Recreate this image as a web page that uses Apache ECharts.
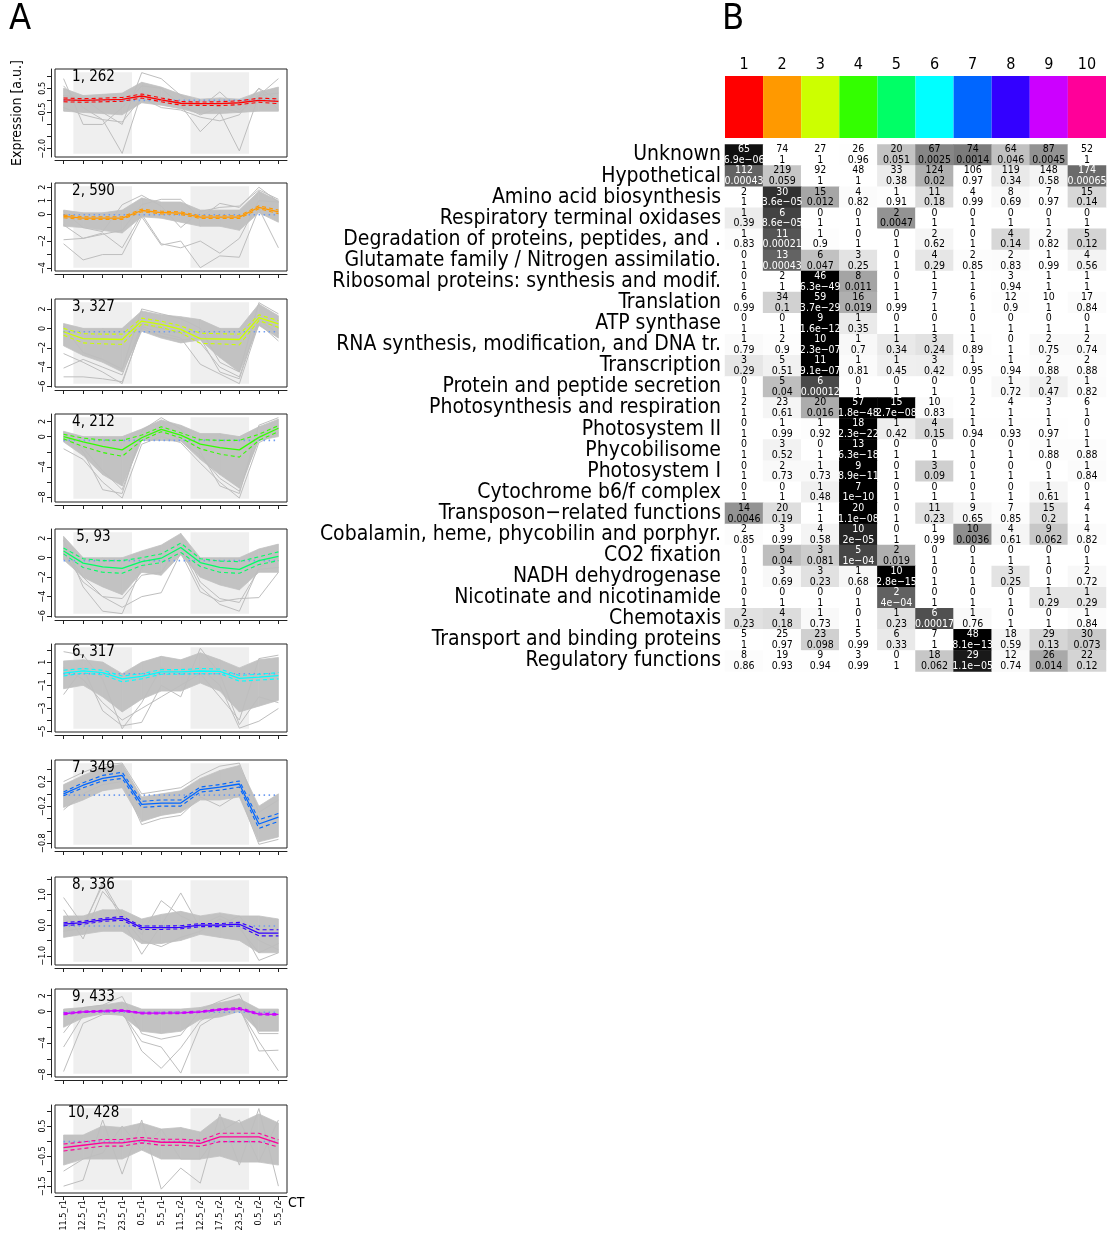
<!DOCTYPE html>
<html>
<head>
<meta charset="utf-8">
<script src="https://cdn.jsdelivr.net/npm/echarts@6/dist/echarts.min.js"></script>
<style>
html, body { margin: 0; padding: 0; background: #fff; }
#main { width: 1107px; height: 1235px; }
</style>
</head>
<body>
<div id="main"></div>
<script>
// ---- panel A: cluster profiles ----
var timeLabels = ['11.5_r1', '12.5_r1', '17.5_r1', '23.5_r1', '0.5_r1', '5.5_r1',
                  '11.5_r2', '12.5_r2', '17.5_r2', '23.5_r2', '0.5_r2', '5.5_r2'];
var clusterNames = ['1, 262', '2, 590', '3, 327', '4, 212', '5, 93', '6, 317', '7, 349', '8, 336', '9, 433', '10, 428'];
var clusterColors = ['#FF0000', '#FF9900', '#CCFF00', '#33FF00', '#00FF66', '#00FFFF', '#0066FF', '#3300FF', '#CC00FF', '#FF0099'];
var darkPhases = [[0.5, 3.5], [6.5, 9.5]];

// data range of each panel (the shaded boxes span it)
var yLimits = [[-2.215, 1.165], [-3.98, 2.07], [-5.71, 2.69], [-8.19, 2.55], [-5.76, 2.62],
               [-4.75, 2.28], [-0.827, 0.497], [-1.194, 1.464], [-7.88, 2.43], [-1.62, 1.09]];
var yTicks = [
    [-2, -1.5, -1, -0.5, 0, 0.5, 1],
    [-4, -3, -2, -1, 0, 1, 2],
    [-6, -4, -2, 0, 2],
    [-8, -6, -4, -2, 0, 2],
    [-6, -4, -2, 0, 2],
    [-5, -4, -3, -2, -1, 0, 1, 2],
    [-0.8, -0.6, -0.4, -0.2, 0, 0.2, 0.4],
    [-1, -0.5, 0, 0.5, 1, 1.5],
    [-8, -6, -4, -2, 0, 2],
    [-1.5, -1, -0.5, 0, 0.5, 1]
];
var yLabelValues = [
    [-2, -0.5, 0.5], [-4, -2, 0, 1, 2], [-6, -4, -2, 0, 2], [-8, -4, 0, 2], [-6, -4, -2, 0, 2],
    [-5, -3, -1, 1], [-0.8, -0.2, 0.2], [-1, 0, 1], [-8, -4, 0, 2], [-1.5, -0.5, 0.5]
];
var yLabelDecimals = [1, 0, 0, 0, 0, 0, 1, 1, 0, 1];

var meanProfiles = [
    [0.02, 0.0, 0.02, 0.04, 0.18, 0.02, -0.12, -0.14, -0.14, -0.1, 0.0, -0.04],
    [-0.17, -0.29, -0.29, -0.29, 0.27, 0.12, 0.07, -0.22, -0.22, -0.22, 0.51, 0.17],
    [-0.35, -1.05, -1.1, -1.15, 0.75, 0.4, -0.1, -1.05, -1.1, -1.15, 1.1, 0.45],
    [0.0, -0.7, -1.3, -1.75, -0.15, 0.95, 0.2, -1.0, -1.45, -1.75, -0.1, 1.1],
    [0.7, -0.55, -0.95, -1.1, -0.4, -0.05, 1.05, -0.5, -1.0, -1.2, -0.3, 0.15],
    [0.05, 0.25, 0.1, -0.45, -0.23, 0.15, 0.15, 0.23, 0.2, -0.4, -0.3, -0.17],
    [0.0, 0.14, 0.25, 0.3, -0.17, -0.15, -0.15, 0.07, 0.11, 0.16, -0.49, -0.38],
    [0.03, 0.08, 0.17, 0.22, -0.08, -0.08, -0.07, 0.0, 0.0, 0.03, -0.26, -0.26],
    [-0.3, -0.04, 0.04, 0.12, -0.2, -0.2, -0.17, -0.04, 0.25, 0.37, -0.33, -0.37],
    [-0.22, -0.14, -0.06, -0.06, 0.03, -0.04, -0.04, -0.08, 0.14, 0.14, 0.14, -0.08]
];
var upperProfiles = [
    [0.1, 0.07, 0.09, 0.12, 0.26, 0.1, -0.05, -0.07, -0.06, -0.02, 0.09, 0.06],
    [-0.07, -0.19, -0.19, -0.19, 0.37, 0.22, 0.17, -0.12, -0.12, -0.12, 0.62, 0.3],
    [0.0, -0.55, -0.6, -0.6, 1.05, 0.75, 0.25, -0.5, -0.55, -0.6, 1.4, 0.8],
    [0.3, -0.2, -0.45, -0.5, 0.2, 1.3, 0.5, -0.4, -0.5, -0.5, 0.3, 1.45],
    [1.0, -0.1, -0.3, -0.3, 0.0, 0.4, 1.5, -0.1, -0.35, -0.4, 0.1, 0.6],
    [0.3, 0.45, 0.3, -0.2, 0.0, 0.35, 0.35, 0.45, 0.4, -0.15, -0.05, 0.1],
    [0.03, 0.18, 0.3, 0.35, -0.12, -0.1, -0.1, 0.11, 0.15, 0.21, -0.42, -0.32],
    [0.08, 0.13, 0.22, 0.28, -0.03, -0.03, -0.02, 0.05, 0.05, 0.09, -0.15, -0.15],
    [-0.18, 0.06, 0.14, 0.22, -0.1, -0.1, -0.07, 0.06, 0.35, 0.5, -0.22, -0.27],
    [-0.1, -0.03, 0.05, 0.05, 0.12, 0.06, 0.06, 0.02, 0.26, 0.26, 0.26, 0.04]
];
var lowerProfiles = [
    [-0.06, -0.08, -0.06, -0.04, 0.1, -0.06, -0.2, -0.21, -0.22, -0.18, -0.08, -0.14],
    [-0.27, -0.39, -0.39, -0.39, 0.17, 0.02, -0.03, -0.32, -0.32, -0.32, 0.4, 0.04],
    [-0.7, -1.5, -1.6, -1.65, 0.45, 0.1, -0.45, -1.55, -1.6, -1.7, 0.8, 0.1],
    [-0.3, -1.3, -2.1, -2.6, -0.5, 0.65, -0.15, -1.6, -2.3, -2.7, -0.5, 0.65],
    [0.4, -1.0, -1.5, -1.6, -0.8, -0.5, 0.55, -0.9, -1.5, -1.6, -0.7, -0.3],
    [-0.2, 0.05, -0.1, -0.7, -0.45, -0.05, -0.05, 0.0, 0.0, -0.65, -0.55, -0.45],
    [-0.03, 0.1, 0.21, 0.25, -0.22, -0.2, -0.2, 0.03, 0.06, 0.11, -0.56, -0.45],
    [-0.02, 0.03, 0.12, 0.16, -0.14, -0.14, -0.12, -0.05, -0.05, -0.03, -0.35, -0.35],
    [-0.42, -0.14, -0.06, 0.02, -0.3, -0.3, -0.27, -0.14, 0.15, 0.25, -0.45, -0.47],
    [-0.33, -0.25, -0.17, -0.17, -0.06, -0.14, -0.14, -0.18, -0.02, -0.02, -0.02, -0.2]
];
var baselineLevels = [0.0, -0.05, -0.35, -0.5, -0.3, 0.0, -0.02, -0.03, -0.1, -0.02];

// envelope of the dense bundle of member genes
var bandTop = [
    [0.5, 0.2, 0.25, 0.3, 0.75, 0.55, 0.25, 0.05, 0.1, 0.05, 0.35, 0.55],
    [0.3, 0.1, 0.1, 0.3, 1.2, 0.9, 0.9, 0.3, 0.3, 0.3, 1.7, 1.0],
    [0.5, 0.0, 0.0, 0.0, 1.8, 1.4, 1.2, 0.9, 0.0, 0.0, 2.5, 1.3],
    [0.7, 0.0, 0.0, 0.0, 1.0, 2.2, 1.5, 0.4, 0.4, 0.0, 1.3, 2.3],
    [2.2, 0.0, 0.0, 0.0, 0.7, 1.3, 2.5, 0.0, 0.0, 0.0, 0.9, 1.4],
    [1.1, 1.2, 1.0, 0.0, 1.0, 1.5, 1.2, 1.8, 1.2, 0.5, 1.2, 1.4],
    [0.15, 0.3, 0.43, 0.48, -0.05, 0.0, 0.05, 0.25, 0.38, 0.46, -0.2, 0.0],
    [0.3, 0.3, 0.5, 0.5, 0.2, 0.35, 0.45, 0.3, 0.4, 0.3, 0.3, 0.2],
    [0.3, 0.5, 0.8, 1.2, 0.3, 0.3, 0.3, 0.5, 1.1, 1.6, 0.3, 0.3],
    [0.2, 0.2, 0.5, 0.45, 0.6, 0.4, 0.45, 0.3, 0.8, 0.6, 0.9, 0.6]
];
var bandBottom = [
    [-0.45, -0.5, -0.55, -0.6, -0.1, -0.2, -0.35, -0.55, -0.55, -0.5, -0.45, -0.45],
    [-0.9, -1.0, -1.2, -1.4, -0.2, -0.3, -0.6, -0.9, -0.9, -1.2, 0.1, -0.6],
    [-1.8, -2.8, -3.5, -4.5, -0.3, -1.0, -1.5, -1.2, -3.0, -4.5, 0.3, -1.0],
    [-0.7, -2.5, -5.0, -6.5, -0.5, -0.5, -0.6, -3.0, -5.0, -6.8, -0.5, 0.0],
    [-0.2, -2.0, -3.0, -3.8, -1.5, -1.8, 0.3, -2.0, -2.8, -3.3, -1.5, -1.5],
    [-1.3, -1.0, -2.0, -3.3, -2.2, -1.5, -1.5, -0.8, -1.5, -3.3, -2.8, -2.3],
    [-0.22, -0.1, 0.05, 0.1, -0.45, -0.35, -0.3, -0.1, -0.1, -0.05, -0.78, -0.7],
    [-0.4, -0.3, -0.2, -0.2, -0.6, -0.6, -0.5, -0.3, -0.4, -0.5, -0.9, -0.9],
    [-2.0, -0.8, -0.3, -0.5, -2.5, -2.8, -2.5, -1.0, -0.7, 0.0, -2.5, -2.5],
    [-0.8, -0.6, -0.6, -0.6, -0.3, -0.6, -0.6, -0.6, -0.5, -0.7, -0.7, -0.8]
];
// individual genes that leave the bundle
var outlierProfiles = [
    [[0.6, -0.3, -0.8, -2.2, 0.3, 0.1, -0.2, -0.6, -0.3, -0.5, 0.2, 0.9],
     [0.9, -1.0, -1.0, -0.3, 0.6, 0.5, -0.2, -1.3, -0.5, -2.1, 0.2, 0.3],
     [0.2, 0.1, -0.5, -1.0, 1.15, 0.9, 0.2, -0.3, 0.35, -0.4, 0.5, 0.0],
     [-0.3, -0.6, -0.8, -0.9, 0.1, -0.3, -0.4, -0.7, -0.85, -0.6, 0.5, -0.4]],
    [[-1.9, -1.8, -1.5, -1.2, 0.7, 1.1, 1.1, -0.3, 0.8, 0.5, 2.0, 0.9],
     [-2.2, -3.4, -3.0, -3.0, -0.2, -2.3, -2.0, -3.98, -3.1, -3.2, 0.4, -2.5],
     [-0.8, -1.8, -1.4, -2.5, 0.0, -2.2, -2.5, -2.0, -2.9, -1.8, 1.0, 0.9],
     [0.2, -1.0, -1.3, 0.7, 1.4, 0.6, -1.0, 0.2, 0.5, 0.6, 1.8, 1.1]],
    [[-2.6, -3.5, -4.5, -5.7, 0.2, -0.5, -1.0, -3.7, -4.7, -5.7, 0.5, -1.3],
     [-4.1, -3.2, -4.0, -4.8, 0.4, 0.0, -0.5, -1.5, -4.0, -5.0, 1.0, 0.0],
     [-5.0, -5.0, -5.2, -5.5, 0.0, -0.8, -1.2, -1.0, -4.5, -5.2, 0.8, -0.5],
     [0.2, -2.5, -3.2, -4.2, 2.0, 1.5, 1.0, 0.0, -3.5, -4.5, 2.65, 1.5]],
    [[-1.6, -3.0, -6.0, -8.1, -1.0, 0.0, -0.8, -3.5, -6.0, -8.1, -0.8, 0.5],
     [0.5, -2.0, -7.0, -7.5, 0.8, 2.5, 1.0, -2.0, -6.5, -7.5, 1.5, 2.5],
     [-0.3, -1.5, -4.5, -7.0, 0.0, 1.0, -0.5, -2.5, -5.5, -7.2, 0.0, 1.5]],
    [[1.8, -3.0, -5.5, -5.75, -1.0, 0.0, 1.0, -3.0, -4.8, -5.5, -1.0, 0.0],
     [0.5, -2.5, -4.0, -5.1, -4.0, -3.6, 0.5, -3.5, -4.5, -4.2, -4.1, -1.5],
     [1.0, -2.0, -4.0, -4.2, -1.8, -1.5, 1.5, -2.5, -4.2, -4.6, -1.2, -1.0]],
    [[1.9, 1.6, -0.5, -4.75, -2.5, 0.5, 0.0, 0.5, -1.0, -4.7, -4.1, -3.0],
     [-1.8, 0.5, -3.2, -4.5, -4.2, -1.0, -2.0, 2.2, 0.0, -4.4, -2.0, -2.5],
     [0.5, -0.5, -2.5, -4.0, -3.0, -2.0, -1.0, 0.0, -2.0, -4.0, 1.3, 1.6]],
    [[-0.26, 0.0, 0.15, 0.2, -0.5, -0.4, -0.35, -0.05, -0.2, 0.0, -0.82, -0.74],
     [0.2, 0.35, 0.47, 0.5, 0.0, 0.05, 0.1, 0.3, 0.45, 0.5, -0.3, -0.1]],
    [[0.9, 0.0, 1.3, 0.2, -0.95, 0.0, 1.05, -0.1, 0.0, 0.3, -0.5, -0.8],
     [0.5, -0.45, 1.1, 0.4, -0.3, 0.8, 0.3, 0.0, 0.3, 0.0, -1.15, -0.9],
     [-0.2, -0.1, 1.4, 0.3, -0.5, -0.7, -0.4, -0.2, 0.2, -0.1, -0.9, -0.6]],
    [[-7.6, -1.5, -0.4, -0.2, -3.8, -4.5, -7.8, -1.8, -0.3, 0.3, -3.8, -7.5],
     [-4.5, -0.5, 0.0, 0.0, -5.0, -7.2, -4.6, -1.2, 0.2, 0.5, -5.0, -4.9],
     [-2.7, 0.5, 0.8, 1.9, -2.8, -3.5, -3.0, 0.2, 1.3, 2.2, -2.8, -2.8]],
    [[-1.5, -1.3, 0.7, -1.1, 0.7, -1.6, -0.9, -1.4, 0.9, -0.8, 1.08, -1.5],
     [-1.0, -0.6, -0.4, 0.5, -0.3, 0.4, -0.6, -0.6, 0.3, 0.7, -0.7, 0.7]]
];

// ---- panel B: functional category enrichment ----
var clusterIds = ['1', '2', '3', '4', '5', '6', '7', '8', '9', '10'];
var categories = ['Unknown', 'Hypothetical', 'Amino acid biosynthesis', 'Respiratory terminal oxidases',
    'Degradation of proteins, peptides, and .', 'Glutamate family / Nitrogen assimilatio.',
    'Ribosomal proteins: synthesis and modif.', 'Translation', 'ATP synthase',
    'RNA synthesis, modification, and DNA tr.', 'Transcription', 'Protein and peptide secretion',
    'Photosynthesis and respiration', 'Photosystem II', 'Phycobilisome', 'Photosystem I',
    'Cytochrome b6/f complex', 'Transposon−related functions', 'Cobalamin, heme, phycobilin and porphyr.',
    'CO2 fixation', 'NADH dehydrogenase', 'Nicotinate and nicotinamide', 'Chemotaxis',
    'Transport and binding proteins', 'Regulatory functions'];
var heatCounts = [
    [65, 74, 27, 26, 20, 67, 74, 64, 87, 52],
    [112, 219, 92, 48, 33, 124, 106, 119, 148, 174],
    [2, 30, 15, 4, 1, 11, 4, 8, 7, 15],
    [1, 6, 0, 0, 2, 0, 0, 0, 0, 0],
    [1, 11, 1, 0, 0, 2, 0, 4, 2, 5],
    [0, 13, 6, 3, 0, 4, 2, 2, 1, 4],
    [0, 2, 46, 8, 0, 1, 1, 3, 1, 1],
    [6, 34, 59, 16, 1, 7, 6, 12, 10, 17],
    [0, 0, 9, 1, 0, 0, 0, 0, 0, 0],
    [1, 2, 10, 1, 1, 3, 1, 0, 2, 2],
    [3, 5, 11, 1, 1, 3, 1, 1, 2, 2],
    [0, 5, 6, 0, 0, 0, 0, 1, 2, 1],
    [2, 23, 20, 57, 15, 10, 2, 4, 3, 6],
    [0, 1, 1, 18, 1, 4, 1, 1, 1, 0],
    [0, 3, 0, 13, 0, 0, 0, 0, 1, 1],
    [0, 2, 1, 9, 0, 3, 0, 0, 0, 1],
    [0, 0, 1, 7, 0, 0, 0, 0, 1, 0],
    [14, 20, 1, 20, 0, 11, 9, 7, 15, 4],
    [2, 3, 4, 10, 0, 1, 10, 4, 9, 4],
    [0, 5, 3, 5, 2, 0, 0, 0, 0, 0],
    [0, 3, 3, 1, 10, 0, 0, 3, 0, 2],
    [0, 0, 0, 0, 2, 0, 0, 0, 1, 1],
    [2, 4, 1, 0, 1, 6, 1, 0, 0, 1],
    [5, 25, 23, 5, 6, 7, 48, 18, 29, 30],
    [8, 19, 9, 3, 0, 18, 29, 12, 26, 22]
];
var heatPvals = [
    ['6.9e−06', '1', '1', '0.96', '0.051', '0.0025', '0.0014', '0.046', '0.0045', '1'],
    ['0.00043', '0.059', '1', '1', '0.38', '0.02', '0.97', '0.34', '0.58', '0.00065'],
    ['1', '3.6e−05', '0.012', '0.82', '0.91', '0.18', '0.99', '0.69', '0.97', '0.14'],
    ['0.39', '8.6e−05', '1', '1', '0.0047', '1', '1', '1', '1', '1'],
    ['0.83', '0.00021', '0.9', '1', '1', '0.62', '1', '0.14', '0.82', '0.12'],
    ['1', '0.00043', '0.047', '0.25', '1', '0.29', '0.85', '0.83', '0.99', '0.56'],
    ['1', '1', '6.3e−49', '0.011', '1', '1', '1', '0.94', '1', '1'],
    ['0.99', '0.1', '3.7e−29', '0.019', '0.99', '1', '1', '0.9', '1', '0.84'],
    ['1', '1', '1.6e−12', '0.35', '1', '1', '1', '1', '1', '1'],
    ['0.79', '0.9', '2.3e−07', '0.7', '0.34', '0.24', '0.89', '1', '0.75', '0.74'],
    ['0.29', '0.51', '9.1e−07', '0.81', '0.45', '0.42', '0.95', '0.94', '0.88', '0.88'],
    ['1', '0.04', '0.00012', '1', '1', '1', '1', '0.72', '0.47', '0.82'],
    ['1', '0.61', '0.016', '1.8e−48', '2.7e−08', '0.83', '1', '1', '1', '1'],
    ['1', '0.99', '0.92', '2.3e−22', '0.42', '0.15', '0.94', '0.93', '0.97', '1'],
    ['1', '0.52', '1', '6.3e−18', '1', '1', '1', '1', '0.88', '0.88'],
    ['1', '0.73', '0.73', '8.9e−11', '1', '0.09', '1', '1', '1', '0.84'],
    ['1', '1', '0.48', '1e−10', '1', '1', '1', '1', '0.61', '1'],
    ['0.0046', '0.19', '1', '1.1e−08', '1', '0.23', '0.65', '0.85', '0.2', '1'],
    ['0.85', '0.99', '0.58', '2e−05', '1', '0.99', '0.0036', '0.61', '0.062', '0.82'],
    ['1', '0.04', '0.081', '1e−04', '0.019', '1', '1', '1', '1', '1'],
    ['1', '0.69', '0.23', '0.68', '2.8e−15', '1', '1', '0.25', '1', '0.72'],
    ['1', '1', '1', '1', '4e−04', '1', '1', '1', '0.29', '0.29'],
    ['0.23', '0.18', '0.73', '1', '0.23', '0.00017', '0.76', '1', '1', '0.84'],
    ['1', '0.97', '0.098', '0.99', '0.33', '1', '8.1e−13', '0.59', '0.13', '0.073'],
    ['0.86', '0.93', '0.94', '0.99', '1', '0.062', '1.1e−05', '0.74', '0.014', '0.12']
];

var FONT = "'DejaVu Sans Condensed', 'DejaVu Sans', sans-serif";
var gridTops = [69, 183, 299, 414, 529, 644, 760, 877, 989, 1105];

var chart = echarts.init(document.getElementById('main'));
var grids = [], xAxes = [], yAxes = [], series = [], texts = [];
var pointIdx = timeLabels.map(function (t, k) { return k; });

function toPoints(arr) {
    return arr.map(function (v, k) { return [k, v]; });
}
function fmt(d) {
    return function (v) { return v.toFixed(d).replace('-', '−'); };
}

clusterNames.forEach(function (name, i) {
    var lim = yLimits[i], pad = (lim[1] - lim[0]) * 0.04;
    var last = i === clusterNames.length - 1;
    grids.push({ left: 55, top: gridTops[i], width: 232, height: 88, show: true,
        borderColor: '#222', borderWidth: 1, backgroundColor: 'transparent' });
    xAxes.push({
        type: 'value', gridIndex: i, min: -0.44, max: 11.44, offset: 3, position: 'bottom',
        axisLine: { show: true, onZero: false, lineStyle: { color: '#222' } },
        axisTick: { show: true, length: 4, customValues: pointIdx, lineStyle: { color: '#222' } },
        axisLabel: { show: last, customValues: pointIdx, rotate: 90, fontSize: 9, margin: 4,
            color: '#000', fontFamily: FONT,
            formatter: function (v) { return timeLabels[v]; } },
        splitLine: { show: false },
        name: last ? 'CT' : '', nameLocation: 'end', nameGap: 1,
        nameTextStyle: { fontSize: 14, color: '#000', fontFamily: FONT, verticalAlign: 'top' }
    });
    yAxes.push({
        type: 'value', gridIndex: i, min: lim[0] - pad, max: lim[1] + pad, offset: 4, position: 'left',
        axisLine: { show: true, onZero: false, lineStyle: { color: '#222' } },
        axisTick: { show: true, length: 4, customValues: yTicks[i], lineStyle: { color: '#222' } },
        axisLabel: { customValues: yLabelValues[i], rotate: 90, fontSize: 9, margin: 4,
            color: '#000', fontFamily: FONT, formatter: fmt(yLabelDecimals[i]) },
        splitLine: { show: false },
        name: i === 0 ? 'Expression [a.u.]' : '', nameLocation: 'middle', nameGap: 27,
        nameTextStyle: { fontSize: 14, color: '#000', fontFamily: FONT }
    });

    // shaded dark phases
    series.push({
        type: 'line', xAxisIndex: i, yAxisIndex: i, z: 1, silent: true, symbol: 'none',
        data: [[0, baselineLevels[i]], [11, baselineLevels[i]]],
        lineStyle: { opacity: 0 },
        markArea: { silent: true, itemStyle: { color: '#efefef' },
            data: darkPhases.map(function (ph) {
                return [{ xAxis: ph[0], yAxis: lim[0] }, { xAxis: ph[1], yAxis: lim[1] }];
            }) }
    });
    // dense bundle of member genes
    var top = bandTop[i], bot = bandBottom[i];
    series.push({
        type: 'custom', xAxisIndex: i, yAxisIndex: i, z: 2, silent: true,
        data: top.slice(0, top.length - 1).map(function (v, k) {
            return [k, v, bot[k], top[k + 1], bot[k + 1]];
        }),
        renderItem: function (params, api) {
            var k = api.value(0);
            var pts = [api.coord([k, api.value(1)]), api.coord([k + 1, api.value(3)]),
                       api.coord([k + 1, api.value(4)]), api.coord([k, api.value(2)])];
            return { type: 'polygon', shape: { points: pts },
                style: { fill: '#c2c2c2', stroke: '#c2c2c2', lineWidth: 0.8 } };
        }
    });
    outlierProfiles[i].forEach(function (prof) {
        series.push({ type: 'line', xAxisIndex: i, yAxisIndex: i, z: 3, silent: true,
            symbol: 'none', data: toPoints(prof), lineStyle: { color: '#bebebe', width: 1 } });
    });
    series.push({ type: 'line', xAxisIndex: i, yAxisIndex: i, z: 4, silent: true, symbol: 'none',
        data: [[0, baselineLevels[i]], [11, baselineLevels[i]]],
        lineStyle: { color: '#6f9cf0', width: 1.6, type: [1.5, 3.5] } });
    [upperProfiles[i], lowerProfiles[i]].forEach(function (prof) {
        series.push({ type: 'line', xAxisIndex: i, yAxisIndex: i, z: 5, silent: true, symbol: 'none',
            data: toPoints(prof), lineStyle: { color: clusterColors[i], width: 1.1, type: [4, 3] } });
    });
    series.push({ type: 'line', xAxisIndex: i, yAxisIndex: i, z: 6, silent: true, symbol: 'none',
        data: toPoints(meanProfiles[i]), lineStyle: { color: clusterColors[i], width: 1.3 } });

    texts.push({ type: 'text', x: 93.5, y: gridTops[i] + 8.5, z: 100,
        style: { text: name, fontSize: 15, fontFamily: FONT, fill: '#000', align: 'center', verticalAlign: 'middle' } });
});

// colour key of the clusters
var gKey = grids.length;
grids.push({ left: 725, top: 76, width: 381, height: 62 });
xAxes.push({ type: 'category', gridIndex: gKey, data: clusterIds, position: 'top',
    axisLine: { show: false }, axisTick: { show: false },
    axisLabel: { fontSize: 16, margin: 3, color: '#000', fontFamily: FONT } });
yAxes.push({ type: 'value', gridIndex: gKey, min: 0, max: 1, show: false });
series.push({ type: 'bar', xAxisIndex: gKey, yAxisIndex: gKey, barCategoryGap: '0%', silent: true,
    data: clusterIds.map(function (c, k) { return { value: 1, itemStyle: { color: clusterColors[k] } }; }) });

// enrichment table
var gHeat = grids.length;
grids.push({ left: 725, top: 144.5, width: 381, height: 527 });
xAxes.push({ type: 'category', gridIndex: gHeat, data: clusterIds, show: false });
yAxes.push({ type: 'category', gridIndex: gHeat, data: categories, inverse: true,
    axisLine: { show: false }, axisTick: { show: false },
    axisLabel: { interval: 0, fontSize: 21, margin: 4, color: '#000', fontFamily: FONT,
        padding: [9, 0, 0, 0] } });

var heatData = [];
categories.forEach(function (cat, r) {
    clusterIds.forEach(function (c, k) {
        var p = parseFloat(heatPvals[r][k].replace('−', '-'));
        heatData.push({ value: [k, r, -Math.log10(p)],
            label: { color: p < 0.001 ? '#fff' : '#000' } });
    });
});
var heatIndex = series.length;
series.push({
    type: 'heatmap', xAxisIndex: gHeat, yAxisIndex: gHeat, data: heatData, silent: true,
    label: { show: true, fontSize: 10.5, lineHeight: 10.8, fontFamily: FONT,
        formatter: function (p) {
            var k = p.value[0], r = p.value[1];
            return heatCounts[r][k] + '\n' + heatPvals[r][k];
        } },
    itemStyle: { borderWidth: 0 }
});

texts.push({ type: 'text', x: 9, y: 2, z: 100, style: { text: 'A', fontSize: 36, fontFamily: FONT, fill: '#000' } });
texts.push({ type: 'text', x: 722, y: 2, z: 100, style: { text: 'B', fontSize: 36, fontFamily: FONT, fill: '#000' } });

chart.setOption({
    animation: false,
    backgroundColor: '#fff',
    grid: grids,
    xAxis: xAxes,
    yAxis: yAxes,
    visualMap: { show: false, type: 'continuous', seriesIndex: heatIndex, dimension: 2,
        min: 0, max: 5.5, inRange: { color: ['#ffffff', '#000000'] } },
    series: series,
    graphic: texts
});
</script>
</body>
</html>
